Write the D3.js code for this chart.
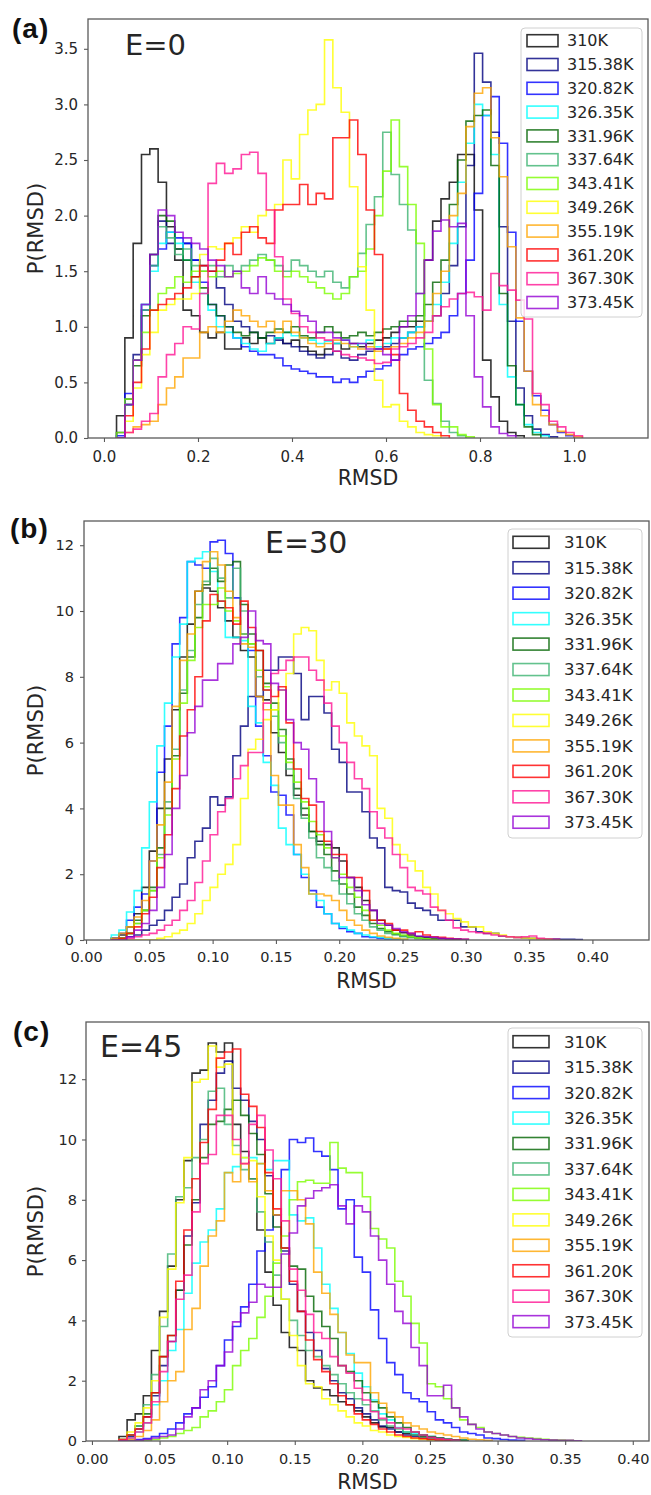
<!DOCTYPE html>
<meta charset="utf-8">
<head>
<script src="https://cdn.jsdelivr.net/npm/d3@7"></script>
<style>
  body { margin: 0; background: #fff; }
  svg text { font-family: "DejaVu Sans", sans-serif; fill: #262626; }
  .frame { fill: none; stroke: #5a5a5a; stroke-width: 1.3px; }
  .axis .tick line { stroke: #5a5a5a; stroke-width: 1.1px; }
  .hist { fill: none; stroke-width: 1.6px; stroke-opacity: 0.8; stroke-linejoin: miter; }
  .tag { font-family: "Liberation Sans", Arial, sans-serif; font-weight: bold; fill: #111; }
  .legend-box { fill: #fff; fill-opacity: 0.8; stroke: #d0d0d0; stroke-width: 1px; }
</style>
</head>
<body>
<div id="chart"></div>
<script>
// temperatures (legend labels)
var temps = ["310K", "315.38K", "320.82K", "326.35K", "331.96K", "337.64K",
             "343.41K", "349.26K", "355.19K", "361.20K", "367.30K", "373.45K"];
var tags = ["(a)", "(b)", "(c)"];
var energies = ["E=0", "E=30", "E=45"];

// histogram bins: first edge and width for each panel
var binStartA = 0.0267, binWidthA = 0.0177;
var binStartB = 0.02,   binWidthB = 0.006;
var binStartC = 0.02,   binWidthC = 0.006;

var xTicksA = [0, 0.2, 0.4, 0.6, 0.8, 1.0];
var yTicksA = [0, 0.5, 1.0, 1.5, 2.0, 2.5, 3.0, 3.5];
var xTicksB = [0, 0.05, 0.10, 0.15, 0.20, 0.25, 0.30, 0.35, 0.40];
var yTicksB = [0, 2, 4, 6, 8, 10, 12];
var xTicksC = [0, 0.05, 0.10, 0.15, 0.20, 0.25, 0.30, 0.35, 0.40];
var yTicksC = [0, 2, 4, 6, 8, 10, 12];

// P(RMSD) per bin, one array per temperature (same order as temps)
var rmsdA = [
  [0.2,0.9,1.75,2.55,2.6,2.3,1.9,1.6,1.15,1.1,0.95,0.9,0.95,0.8,0.8,0.9,0.85,0.9,0.85,0.9,0.85,0.88,0.82,0.78,0.75,0.8,0.85,0.8,0.85,0.82,0.85,0.88,0.9,0.95,1.0,1.0,1.05,1.6,1.95,2.15,2.3,2.55,2.55,2.05,0.7,0.37,0.15,0.05,0.02],
  [0.05,0.35,0.75,1.2,1.65,1.95,1.75,1.7,1.75,1.6,1.55,1.5,1.35,1.2,1.05,1.0,0.95,0.9,0.92,0.88,0.85,0.82,0.78,0.75,0.72,0.75,0.78,0.72,0.7,0.75,0.78,0.8,0.82,0.85,0.9,0.95,1.0,1.05,1.1,1.3,1.55,1.9,2.45,3.46,3.2,2.75,1.9,1.05,0.45,0.2,0.08,0.03,0.01],
  [0.02,0.4,0.7,1.15,1.55,1.7,1.85,1.8,1.75,1.6,1.4,1.2,1.1,1.0,0.9,0.82,0.78,0.75,0.75,0.72,0.65,0.62,0.6,0.58,0.55,0.55,0.5,0.53,0.5,0.55,0.6,0.62,0.65,0.7,0.75,0.8,0.82,0.85,0.9,0.95,1.1,1.3,1.6,2.2,2.9,3.07,2.65,1.85,1.05,0.6,0.38,0.25,0.12,0.05,0.02],
  [0,0.3,0.7,1.2,1.5,1.75,1.85,1.75,1.6,1.4,1.3,1.15,1.0,0.95,0.9,0.85,0.8,0.78,0.85,0.9,0.95,0.92,0.9,0.88,0.85,0.87,0.85,0.88,0.82,0.85,0.88,0.82,0.85,0.9,0.9,0.95,1.0,1.05,1.2,1.4,1.75,2.3,2.65,3.0,2.9,2.55,1.2,0.55,0.3,0.12,0.05,0.02],
  [0,0.3,0.65,1.1,1.65,2.0,1.95,1.7,1.6,1.45,1.35,1.2,1.1,1.0,0.95,0.92,0.95,0.9,0.95,0.98,0.95,1.0,0.92,0.9,0.95,1.0,0.95,0.9,0.92,0.95,0.92,0.95,0.98,1.0,1.05,1.05,1.1,1.2,1.4,1.6,2.1,2.5,2.85,2.9,2.95,2.45,1.3,0.65,0.3,0.1,0.03],
  [0,0.3,0.7,1.15,1.55,1.9,1.8,1.65,1.7,1.55,1.5,1.55,1.45,1.55,1.5,1.55,1.6,1.65,1.6,1.55,1.5,1.6,1.55,1.5,1.45,1.5,1.4,1.35,1.45,1.66,1.92,2.17,2.75,2.37,2.1,1.87,1.3,0.52,0.31,0.15,0.05,0.02],
  [0.05,0.35,0.7,0.95,1.15,1.3,1.35,1.45,1.4,1.5,1.5,1.45,1.5,1.45,1.48,1.5,1.55,1.62,1.6,1.5,1.45,1.5,1.45,1.4,1.35,1.3,1.25,1.3,1.45,1.5,1.7,2.0,2.4,2.86,2.44,2.1,1.75,0.8,0.3,0.1,0.1,0.03,0.01],
  [0,0.15,0.45,0.75,0.95,1.15,1.2,1.25,1.25,1.3,1.65,1.72,1.7,1.75,1.8,1.9,1.85,2.0,2.05,2.1,2.5,2.33,2.73,2.95,3.0,3.58,3.15,2.93,2.26,1.54,1.15,0.52,0.28,0.3,0.15,0.1,0.05,0.03,0.02],
  [0,0.05,0.1,0.12,0.15,0.3,0.45,0.55,0.72,0.72,0.95,1.0,0.95,1.05,1.15,1.1,1.05,1.0,1.05,0.95,1.05,0.95,0.9,0.85,0.82,0.85,0.88,0.85,0.82,0.8,0.82,0.78,0.8,0.82,0.85,0.9,0.95,1.05,1.3,1.5,2.0,2.2,2.8,3.1,3.15,2.7,2.35,1.72,1.08,0.6,0.3,0.2,0.12,0.06,0.03,0.01],
  [0,0.2,0.5,0.8,1.15,1.2,1.25,1.3,1.35,1.45,1.55,1.5,1.6,1.75,1.65,1.85,1.9,1.8,1.75,2.05,2.1,2.1,2.28,2.1,2.2,2.15,2.7,2.7,2.86,2.55,2.05,1.65,0.8,0.75,0.4,0.25,0.15,0.1,0.05,0.02],
  [0,0.05,0.08,0.15,0.22,0.55,0.75,0.85,1.0,0.98,1.3,2.29,2.47,2.38,2.42,2.55,2.57,2.38,2.05,1.63,1.25,1.12,1.0,0.95,0.9,0.88,0.78,0.75,0.73,0.72,0.7,0.67,0.68,0.8,0.82,0.85,0.9,0.95,1.1,1.18,1.25,1.3,1.31,1.27,1.15,1.48,1.37,1.33,1.24,1.07,0.4,0.3,0.15,0.1,0.05,0.02],
  [0,0.3,0.7,1.2,1.65,2.05,2.0,1.85,1.8,1.75,1.7,1.6,1.55,1.45,1.5,1.35,1.3,1.45,1.3,1.25,1.2,1.14,1.1,1.05,0.95,0.95,0.9,0.88,0.85,0.85,0.8,0.8,0.75,0.7,1.0,1.1,1.3,1.6,1.86,1.96,1.9,1.93,1.1,0.55,0.28,0.1,0.04,0.02]
];

var rmsdB = [
  [0.05,0.15,0.4,0.8,1.6,2.7,4.0,5.5,7.0,8.6,9.6,10.6,10.7,10.6,10.1,9.7,9.2,8.8,8.6,7.4,7.3,6.3,5.7,5.0,4.4,3.8,3.3,3.0,2.9,2.8,2.4,1.9,1.6,1.2,0.9,0.6,0.45,0.3,0.22,0.15,0.1,0.08,0.05,0.04,0.03,0.02],
  [0,0.05,0.1,0.15,0.3,0.45,0.6,0.9,1.3,1.7,2.5,3.0,3.4,4.35,4.1,4.35,5.6,6.5,7.4,7.4,8.2,8.2,8.6,8.6,8.1,6.7,7.4,7.4,6.9,5.8,5.4,4.5,4.5,3.9,3.1,2.8,1.6,1.5,1.46,1.12,0.97,0.9,0.76,0.6,0.6,0.6,0.4,0.4,0.25,0.2,0.2,0.12,0.1,0.08,0.06,0.05,0.04,0.03,0.03,0.02,0.02,0.01],
  [0.05,0.2,0.6,1.0,1.4,2.4,5.1,6.5,9.0,9.8,11.5,11.4,11.3,12.1,12.15,11.75,10.4,9.3,8.8,6.5,5.6,4.5,4.4,3.8,2.6,1.9,1.5,1.0,0.8,0.5,0.35,0.25,0.2,0.1,0.08,0.05,0.03,0.02],
  [0.15,0.3,0.85,1.5,2.8,4.2,5.9,7.2,8.6,9.6,11.5,11.6,11.8,11.2,10.3,9.2,9.2,9.1,7.1,6.6,5.4,4.7,3.4,2.9,2.6,2.0,1.4,1.2,0.8,0.5,0.4,0.3,0.2,0.15,0.1,0.08,0.05,0.03,0.02],
  [0,0.05,0.2,0.6,0.9,1.6,2.8,4.0,5.6,7.5,8.6,9.8,10.8,11.3,10.9,11.4,11.5,10.2,9.3,8.8,7.8,7.2,6.4,5.5,4.6,4.0,3.3,2.9,2.6,2.1,1.7,1.4,1.0,0.75,0.5,0.35,0.25,0.18,0.12,0.08,0.05,0.03,0.02],
  [0,0.05,0.2,0.5,0.9,1.5,2.6,4.2,5.8,7.6,8.8,10.2,10.9,11.6,11.0,10.4,11.3,10.0,9.0,8.0,7.6,6.8,6.0,5.2,4.3,3.7,3.1,2.5,2.2,1.8,1.4,1.1,0.8,0.6,0.4,0.3,0.2,0.15,0.1,0.08,0.05,0.03],
  [0,0.05,0.2,0.5,0.9,1.5,2.5,3.8,5.5,7.2,8.5,9.5,10.2,10.2,10.7,10.0,9.7,9.3,9.0,8.2,7.7,7.0,6.2,5.4,4.8,4.2,3.6,3.2,2.8,2.5,2.0,1.6,1.3,0.9,0.6,0.45,0.3,0.2,0.15,0.1,0.06,0.04,0.02],
  [0,0,0,0,0,0,0.05,0.1,0.2,0.3,0.5,0.8,1.2,1.6,2.0,2.3,2.9,4.3,5.8,6.1,6.7,7.0,7.6,8.1,9.3,9.5,9.4,8.5,7.6,7.85,7.5,6.6,6.2,5.9,5.6,4.0,3.7,2.9,2.6,2.4,2.1,1.6,1.4,0.9,0.8,0.65,0.55,0.4,0.4,0.25,0.2,0.15,0.1,0.08,0.06,0.05,0.03,0.02],
  [0.05,0.2,0.4,0.7,1.2,2.4,3.5,4.8,7.1,8.5,9.3,10.6,11.5,11.8,11.4,10.6,9.8,9.0,8.9,7.4,7.0,5.0,4.1,4.1,2.9,2.2,1.4,1.4,1.35,1.2,0.9,0.6,0.45,0.3,0.2,0.12,0.08,0.05,0.03],
  [0,0.05,0.2,0.4,0.8,1.3,2.2,3.2,4.6,6.2,7.0,8.0,9.7,10.5,10.3,10.1,9.6,10.3,9.5,8.8,7.6,7.4,7.7,6.6,5.2,4.3,4.1,3.3,3.0,2.6,2.6,1.9,1.9,1.5,0.6,0.6,0.5,0.3,0.3,0.2,0.25,0.15,0.1,0.08,0.05,0.03,0.02],
  [0,0,0.05,0.1,0.15,0.2,0.3,0.45,0.6,0.9,1.2,1.75,2.4,3.2,3.9,4.3,4.9,5.3,5.7,5.7,7.2,8.1,8.2,8.5,8.6,8.6,8.2,7.9,7.2,6.5,6.0,5.4,4.9,4.6,3.9,3.4,3.1,2.6,2.2,1.6,1.5,1.4,1.0,0.9,0.6,0.37,0.3,0.25,0.22,0.2,0.15,0.12,0.1,0.08,0.1,0.12,0.05,0.03,0.02],
  [0,0,0.1,0.3,0.5,0.9,1.6,2.6,4.0,5.0,6.3,7.1,7.9,7.9,8.4,8.4,9.0,9.2,10.0,9.1,9.0,7.8,7.6,6.7,6.0,5.8,4.9,4.2,3.3,2.5,1.9,1.9,1.5,1.07,0.9,0.5,0.45,0.35,0.25,0.2,0.12,0.1,0.08,0.05,0.04,0.03,0.02]
];

var rmsdC = [
  [0.15,0.7,0.9,1.5,3.0,4.3,5.8,8.0,9.3,12.2,12.3,13.2,12.9,13.2,10.5,9.6,8.7,7.0,5.6,4.5,3.6,3.1,3.0,2.0,1.76,1.7,1.5,1.3,1.2,1.0,0.8,0.6,0.47,0.45,0.3,0.25,0.2,0.15,0.12,0.1,0.06,0.04,0.02],
  [0,0.15,0.4,0.8,1.5,2.5,3.3,5.0,6.8,7.9,10.5,11.3,12.2,12.6,11.7,11.3,10.6,10.0,8.8,7.5,6.3,5.2,4.3,3.6,3.0,2.4,2.0,1.6,1.4,1.1,0.9,0.7,0.5,0.4,0.3,0.2,0.15,0.1,0.06,0.04,0.02],
  [0,0.02,0.05,0.08,0.15,0.25,0.4,0.6,0.9,1.1,1.45,1.8,2.5,3.35,3.8,4.45,5.2,6.3,7.0,7.5,9.0,10.0,9.9,10.05,9.6,9.45,9.0,7.7,8.0,6.1,5.6,4.35,3.4,2.6,2.2,1.6,1.4,1.3,0.97,0.7,0.6,0.45,0.3,0.25,0.2,0.1,0.08,0.05,0.03,0.02],
  [0,0.1,0.3,0.6,1.2,2.0,3.0,3.7,4.9,5.9,6.6,7.0,7.7,8.9,9.1,9.4,9.4,9.2,9.0,9.3,9.3,7.5,7.3,7.4,6.4,5.2,4.4,3.6,2.9,2.25,1.8,1.36,0.9,0.7,0.45,0.3,0.25,0.2,0.15,0.1,0.06,0.04,0.02],
  [0.05,0.2,0.5,0.9,1.6,2.8,3.5,5.0,6.5,8.0,9.4,10.5,10.6,11.0,11.3,10.8,10.2,9.5,8.2,7.1,6.4,5.8,5.7,4.8,4.3,3.8,3.4,2.5,2.3,2.0,1.6,1.3,1.1,0.8,0.6,0.45,0.3,0.2,0.15,0.1,0.06,0.04,0.02],
  [0.05,0.2,0.5,1.2,2.2,3.8,6.2,8.1,8.4,9.4,10.0,11.6,11.7,10.5,9.8,9.0,8.7,7.6,6.6,5.5,4.7,4.0,3.5,3.0,2.8,2.5,2.2,1.9,1.6,1.4,1.2,1.0,0.7,0.5,0.4,0.3,0.2,0.12,0.08,0.05,0.03],
  [0,0,0,0.02,0.05,0.1,0.15,0.25,0.35,0.45,0.8,1.0,1.3,1.7,2.5,3.0,3.4,4.1,4.8,5.9,6.8,8.0,8.6,8.65,8.55,8.55,9.9,9.05,8.9,8.9,8.1,7.05,6.7,6.4,5.3,4.8,3.9,3.25,1.9,1.8,1.4,1.1,0.7,0.55,0.45,0.3,0.25,0.2,0.15,0.12,0.1,0.08,0.06,0.04,0.03,0.02],
  [0.05,0.3,0.6,1.1,2.0,4.1,5.7,7.9,9.4,11.9,12.0,13.1,12.4,12.5,9.5,9.4,9.3,8.1,6.8,6.0,4.7,3.5,2.5,1.9,1.8,1.4,1.2,1.0,0.8,0.6,0.5,0.35,0.3,0.2,0.15,0.12,0.08,0.05,0.03,0.02],
  [0,0.05,0.15,0.35,0.7,1.3,2.0,2.3,3.7,4.4,5.8,6.8,7.3,8.9,8.6,9.2,8.6,9.2,8.3,7.5,8.3,8.3,8.0,7.2,5.6,4.9,4.2,3.6,2.85,2.6,2.6,1.6,1.25,0.95,0.8,0.6,0.5,0.4,0.3,0.25,0.2,0.15,0.1,0.06,0.04,0.02],
  [0.05,0.2,0.4,0.8,1.6,2.8,3.5,5.3,7.0,8.7,9.9,11.0,12.7,12.9,13.0,11.5,11.1,10.4,8.9,7.7,6.4,5.3,4.3,3.35,2.7,2.3,1.9,1.5,1.2,0.9,0.7,0.55,0.4,0.3,0.2,0.15,0.1,0.08,0.05,0.03,0.02],
  [0.02,0.1,0.3,0.6,1.3,2.3,3.3,4.7,5.5,7.6,9.2,9.5,10.8,10.8,10.0,9.2,10.5,10.8,9.65,8.7,7.3,5.7,5.0,4.2,3.6,3.4,2.8,2.5,2.25,1.75,1.36,0.97,0.75,0.6,0.43,0.4,0.3,0.2,0.12,0.08,0.05,0.03],
  [0,0,0.02,0.05,0.1,0.15,0.2,0.4,0.8,1.1,1.7,2.0,2.5,2.95,3.95,4.25,4.6,5.2,5.1,5.1,6.2,6.9,7.8,8.05,8.3,8.4,8.5,7.8,7.2,7.8,7.6,6.8,6.0,5.2,4.3,3.9,3.1,2.5,1.5,1.5,1.85,1.1,0.8,0.55,0.4,0.3,0.25,0.2,0.15,0.1,0.08,0.06,0.04,0.03,0.02,0.02,0.01]
];

// line colours, in legend order
var colors = ["black", "navy", "blue", "cyan", "darkgreen", "mediumseagreen",
              "lawngreen", "yellow", "orange", "red", "deeppink", "darkviolet"];

// layout of the three panels (pixels)
var panels = [
  {data: rmsdA, start: binStartA, width: binWidthA, xTicks: xTicksA, yTicks: yTicksA,
   left: 88, right: 648, top: 19, bottom: 438, xDom: [-0.034, 1.1574], yDom: [0, 3.768],
   fx: ".1f", fy: ".1f", tickFs: 15, padX: 9.3, padY: 6,
   tagX: 12, tagY: 38, eX: 125, eY: 55, eFs: 29, xLabY: 485,
   leg: {x: 521, y: 28, w: 121, h: 289, sx: 527, sw: 31, tx: 567, row0: 40.7, dy: 23.8, fs: 16}},
  {data: rmsdB, start: binStartB, width: binWidthB, xTicks: xTicksB, yTicks: yTicksB,
   left: 84, right: 649, top: 521, bottom: 940, xDom: [-0.0016, 0.4447], yDom: [0, 12.736],
   fx: ".2f", fy: "d", tickFs: 14.5, padX: 7.7, padY: 6,
   tagX: 10, tagY: 538, eX: 265, eY: 553, eFs: 30, xLabY: 988,
   leg: {x: 508, y: 529, w: 134, h: 309, sx: 513, sw: 36, tx: 564, row0: 542.3, dy: 25.45, fs: 16.5}},
  {data: rmsdC, start: binStartC, width: binWidthC, xTicks: xTicksC, yTicks: yTicksC,
   left: 86, right: 649, top: 1022, bottom: 1441, xDom: [-0.0044, 0.412], yDom: [0, 13.897],
   fx: ".2f", fy: "d", tickFs: 14.5, padX: 8.7, padY: 5,
   tagX: 13, tagY: 1041, eX: 100, eY: 1057, eFs: 30, xLabY: 1489,
   leg: {x: 508, y: 1028, w: 134, h: 309, sx: 513, sw: 36, tx: 564, row0: 1041.7, dy: 25.45, fs: 16.5}}
];

var svg = d3.select("#chart").append("svg")
    .attr("width", 651)
    .attr("height", 1495)
    .style("display", "block");

svg.append("rect").attr("width", 651).attr("height", 1495).attr("fill", "#fff");

function stepPoints(vals, start, w) {
  var pts = [[start, 0]];
  vals.forEach(function(v, i) {
    pts.push([start + i * w, v]);
    pts.push([start + (i + 1) * w, v]);
  });
  pts.push([start + vals.length * w, 0]);
  return pts;
}

panels.forEach(function(p, k) {
  var x = d3.scaleLinear().domain(p.xDom).range([p.left, p.right]);
  var y = d3.scaleLinear().domain(p.yDom).range([p.bottom, p.top]);
  var g = svg.append("g");

  g.append("clipPath").attr("id", "clip" + k)
    .append("rect")
      .attr("x", p.left).attr("y", p.top)
      .attr("width", p.right - p.left).attr("height", p.bottom - p.top);

  // step histograms
  var line = d3.line().x(function(d) { return x(d[0]); }).y(function(d) { return y(d[1]); });
  var lines = g.append("g").attr("clip-path", "url(#clip" + k + ")");
  p.data.forEach(function(vals, i) {
    lines.append("path")
      .attr("class", "hist")
      .attr("stroke", colors[i])
      .attr("d", line(stepPoints(vals, p.start, p.width)));
  });

  // axes
  var xAxis = g.append("g").attr("class", "axis")
      .attr("transform", "translate(0," + p.bottom + ")")
      .call(d3.axisBottom(x).tickValues(p.xTicks).tickFormat(d3.format(p.fx))
            .tickSize(4).tickPadding(p.padX));
  var yAxis = g.append("g").attr("class", "axis")
      .attr("transform", "translate(" + p.left + ",0)")
      .call(d3.axisLeft(y).tickValues(p.yTicks).tickFormat(d3.format(p.fy))
            .tickSize(4).tickPadding(p.padY));
  [xAxis, yAxis].forEach(function(a) {
    a.select(".domain").remove();
    a.selectAll("text").style("font-size", p.tickFs + "px").attr("fill", "#262626")
      .style("font-family", "'DejaVu Sans', sans-serif");
  });

  g.append("rect").attr("class", "frame")
    .attr("x", p.left).attr("y", p.top)
    .attr("width", p.right - p.left).attr("height", p.bottom - p.top);

  // axis labels
  g.append("text")
    .attr("x", (p.left + p.right) / 2).attr("y", p.xLabY)
    .attr("text-anchor", "middle").style("font-size", "20.5px")
    .text("RMSD");
  g.append("text")
    .attr("transform", "translate(43," + ((p.top + p.bottom) / 2) + ") rotate(-90)")
    .attr("text-anchor", "middle").style("font-size", "21px")
    .text("P(RMSD)");

  // panel tag and field label
  g.append("text").attr("class", "tag")
    .attr("x", p.tagX).attr("y", p.tagY)
    .style("font-size", "28px").style("letter-spacing", "1px")
    .text(tags[k]);
  g.append("text")
    .attr("x", p.eX).attr("y", p.eY)
    .style("font-size", p.eFs + "px").attr("fill", "#111")
    .text(energies[k]);

  // legend
  var L = p.leg;
  var lg = g.append("g");
  lg.append("rect").attr("class", "legend-box")
    .attr("x", L.x).attr("y", L.y).attr("width", L.w).attr("height", L.h)
    .attr("rx", 4).attr("ry", 4);
  temps.forEach(function(t, i) {
    var cy = L.row0 + i * L.dy;
    lg.append("rect")
      .attr("x", L.sx).attr("y", cy - 6)
      .attr("width", L.sw).attr("height", 12)
      .attr("fill", "none").attr("stroke", colors[i])
      .attr("stroke-width", 1.6).attr("stroke-opacity", 0.8);
    lg.append("text")
      .attr("x", L.tx).attr("y", cy).attr("dy", "0.36em")
      .style("font-size", L.fs + "px")
      .text(t);
  });
});
</script>
</body>
</html>
